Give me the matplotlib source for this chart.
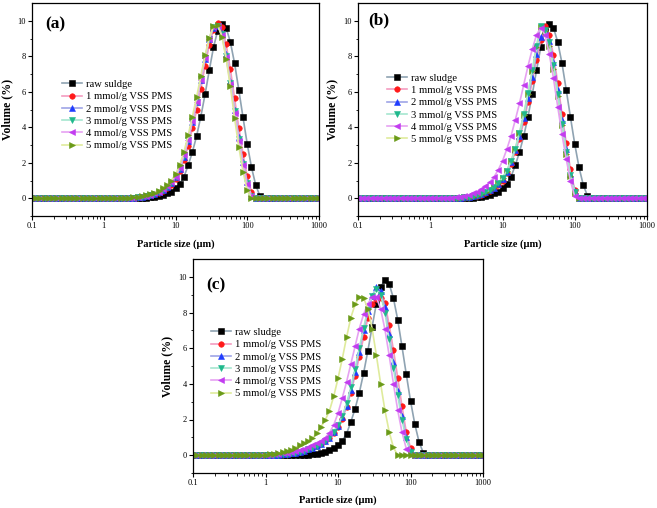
import matplotlib
matplotlib.use("Agg")
import matplotlib.pyplot as plt
from matplotlib.ticker import FixedLocator, NullFormatter

plt.rcParams['font.family'] = ['Liberation Serif', 'DejaVu Serif']

# particle size bins (um)
SIZE_UM = [0.1, 0.1145, 0.1311, 0.1501, 0.1719, 0.1968, 0.2254, 0.2581, 0.2955, 0.3384,
           0.3875, 0.4437, 0.508, 0.5817, 0.6661, 0.7627, 0.8733, 1.0, 1.145, 1.311,
           1.501, 1.719, 1.968, 2.254, 2.581, 2.955, 3.384, 3.875, 4.437, 5.08,
           5.817, 6.661, 7.627, 8.733, 10.0, 11.45, 13.11, 15.01, 17.19, 19.68,
           22.54, 25.81, 29.55, 33.84, 38.75, 44.37, 50.8, 58.17, 66.61, 76.27,
           87.33, 100.0, 114.5, 131.1, 150.1, 171.9, 196.8, 225.4, 258.1, 295.5,
           338.4, 387.5, 443.7, 508.0, 581.7, 666.1, 762.7, 873.3, 1000.0]

Z = 0
RAW = [Z]*25 + [0.01, 0.02, 0.03, 0.05, 0.08, 0.12, 0.18, 0.27, 0.38, 0.55,
                0.8, 1.2, 1.85, 2.6, 3.5, 4.6, 5.85, 7.2, 8.5, 9.45,
                9.8, 9.6, 8.8, 7.6, 6.1, 4.55, 3.05, 1.75, 0.75, 0.13] + [Z]*14

# panel (a)
A1 = [Z]*22 + [0.01, 0.02, 0.03, 0.05, 0.08, 0.11, 0.16, 0.22, 0.30, 0.40, 0.55, 0.75, 1.07, 1.51,
               2.15, 2.93, 3.94, 4.95, 6.15, 7.46, 8.64, 9.48, 9.90, 9.63, 8.67, 7.27, 5.63, 3.98,
               2.49, 1.23, 0.36] + [Z]*16
A2 = [Z]*22 + [0.01, 0.02, 0.04, 0.06, 0.09, 0.13, 0.18, 0.25, 0.34, 0.46, 0.62, 0.84, 1.17, 1.64,
               2.35, 3.25, 4.3, 5.4, 6.65, 7.85, 8.95, 9.6, 9.7, 9.3, 8.1, 6.6, 5.0, 3.45,
               2.05, 0.9, 0.15] + [Z]*16
A3 = [Z]*22 + [0.01, 0.02, 0.04, 0.06, 0.09, 0.13, 0.18, 0.25, 0.34, 0.46, 0.63, 0.86, 1.2, 1.68,
               2.4, 3.3, 4.35, 5.45, 6.7, 7.9, 9.0, 9.65, 9.72, 9.25, 8.0, 6.5, 4.9, 3.35,
               1.95, 0.85, 0.12] + [Z]*16
A4 = [Z]*22 + [0.01, 0.02, 0.04, 0.07, 0.10, 0.14, 0.20, 0.27, 0.37, 0.50, 0.67, 0.9, 1.22, 1.7,
               2.42, 3.3, 4.35, 5.45, 6.68, 7.9, 9.0, 9.65, 9.7, 9.2, 7.95, 6.45, 4.8, 3.25,
               1.9, 0.8, 0.1] + [Z]*16
A5 = [Z]*22 + [0.02, 0.03, 0.05, 0.08, 0.12, 0.17, 0.24, 0.32, 0.43, 0.57, 0.75, 1.0, 1.35, 1.88,
               2.62, 3.55, 4.6, 5.7, 6.9, 8.05, 9.05, 9.7, 9.75, 9.1, 7.85, 6.3, 4.5, 2.9,
               1.5, 0.45, 0] + [Z]*16

# panel (b)
B1 = [Z]*22 + [0.01, 0.02, 0.03, 0.05, 0.07, 0.1, 0.14, 0.2, 0.3, 0.4, 0.55, 0.75, 1.0, 1.4,
               1.95, 2.6, 3.35, 4.3, 5.4, 6.6, 7.8, 8.9, 9.7, 9.2, 8.05, 6.5, 4.75, 3.1,
               1.63, 0.45, 0] + [Z]*16
B2 = [Z]*22 + [0.01, 0.02, 0.04, 0.06, 0.08, 0.12, 0.17, 0.24, 0.33, 0.45, 0.6, 0.8, 1.1, 1.5,
               2.05, 2.7, 3.5, 4.5, 5.65, 6.85, 8.1, 9.1, 9.5, 8.85, 7.7, 6.1, 4.43, 2.75,
               1.35, 0.4, 0] + [Z]*16
B3 = [Z]*22 + [0.01, 0.02, 0.04, 0.06, 0.09, 0.13, 0.18, 0.25, 0.35, 0.47, 0.63, 0.85, 1.15, 1.55,
               2.1, 2.8, 3.7, 4.75, 5.95, 7.2, 8.6, 9.72, 9.5, 8.8, 7.5, 5.9, 4.2, 2.6,
               1.3, 0.35, 0] + [Z]*16
B4 = [Z]*20 + [0.01, 0.02, 0.04, 0.06, 0.09, 0.13, 0.19, 0.27, 0.37, 0.5, 0.68, 0.9, 1.2, 1.6,
               2.1, 2.75, 3.5, 4.4, 5.35, 6.4, 7.45, 8.4, 9.2, 9.6, 9.2, 8.15, 6.75, 5.15,
               3.6, 2.2, 0.97, 0.1, 0] + [Z]*16
B5 = [Z]*22 + [0.01, 0.02, 0.04, 0.06, 0.09, 0.13, 0.18, 0.25, 0.35, 0.47, 0.63, 0.85, 1.15, 1.55,
               2.1, 2.78, 3.66, 4.7, 5.9, 7.15, 8.5, 9.65, 9.4, 8.6, 7.3, 5.75, 4.1, 2.5,
               1.25, 0.3, 0] + [Z]*16

# panel (c)
C1 = [Z]*18 + [0.01, 0.02, 0.03, 0.05, 0.07, 0.1, 0.14, 0.19, 0.25, 0.32, 0.4, 0.5, 0.62, 0.78,
               0.98, 1.25, 1.6, 2.05, 2.7, 3.5, 4.45, 5.5, 6.6, 7.7, 8.5, 8.75, 8.8, 8.55,
               7.3, 5.9, 4.35, 2.75, 1.31, 0.41, 0] + [Z]*16
C2 = [Z]*18 + [0.01, 0.02, 0.03, 0.05, 0.07, 0.1, 0.14, 0.19, 0.25, 0.32, 0.4, 0.5, 0.62, 0.77,
               0.95, 1.3, 1.65, 2.15, 2.75, 3.64, 4.67, 5.8, 7.0, 8.1, 8.9, 9.45, 9.2, 8.3,
               6.8, 5.2, 3.6, 2.2, 1.0, 0.25, 0] + [Z]*16
C3 = [Z]*18 + [0.01, 0.02, 0.03, 0.05, 0.07, 0.1, 0.14, 0.19, 0.25, 0.32, 0.41, 0.51, 0.63, 0.79,
               0.98, 1.32, 1.7, 2.2, 2.9, 3.8, 4.85, 6.0, 7.15, 8.15, 8.9, 9.3, 9.0, 8.0,
               6.5, 4.9, 3.35, 2.0, 0.9, 0.2, 0] + [Z]*16
C4 = [Z]*16 + [0.01, 0.02, 0.03, 0.05, 0.07, 0.1, 0.13, 0.17, 0.22, 0.28, 0.36, 0.45, 0.57, 0.7,
               0.82, 0.98, 1.25, 1.7, 2.35, 3.2, 4.1, 5.1, 6.1, 7.1, 7.9, 8.5, 8.85, 8.85,
               8.2, 7.05, 5.6, 4.0, 2.52, 1.3, 0.37, 0] + [Z]*17
C5 = [Z]*16 + [0.01, 0.02, 0.04, 0.07, 0.11, 0.16, 0.23, 0.31, 0.42, 0.55, 0.68, 0.8, 0.95, 1.22,
               1.59, 1.96, 2.5, 3.3, 4.3, 5.4, 6.6, 7.7, 8.45, 8.88, 8.82, 8.2, 7.1, 5.6,
               4.0, 2.52, 1.31, 0.43, 0] + [Z]*20

LABELS_A = ['raw suldge', '1 mmol/g VSS PMS', '2 mmol/g VSS PMS', '3 mmol/g VSS PMS',
            '4 mmol/g VSS PMS', '5 mmol/g VSS PMS']
LABELS_BC = ['raw sludge'] + LABELS_A[1:]
XTICKS = [0.1, 1, 10, 100, 1000]
XTICK_LABELS = ['0.1', '1', '10', '100', '1000']
YTICKS = [0, 2, 4, 6, 8, 10]

MARKERS = ['s', 'o', '^', 'v', '<', '>']
MCOLORS = ['#000000', '#ff1a1a', '#1f3cff', '#1fb88c', '#c23cf0', '#6a9a18']
LCOLORS = ['#8fa3b2', '#f49cc0', '#9ea4e6', '#a6e6cf', '#e6a2f2', '#dfeb9c']

W, H = 657, 508
fig = plt.figure(figsize=(W / 100, H / 100), dpi=100)


def px_axes(l, t, r, b):
    return fig.add_axes([l / W, 1 - b / H, (r - l) / W, (b - t) / H])


def panel(ax, series, labels, tag, leg_xy, tag_xy, ylab_x, xlab_y, zorders=None):
    for k, ys in enumerate(series):
        z = 2 + k if zorders is None else zorders[k]
        ax.plot(SIZE_UM, ys, color=LCOLORS[k], lw=1.2, marker=MARKERS[k], ms=4.0,
                mfc=MCOLORS[k], mec=MCOLORS[k], mew=0.4, label=labels[k], zorder=z)
    ax.set_xscale('log')
    ax.set_xlim(0.1, 1000)
    ax.set_ylim(-1, 11)
    ax.xaxis.set_major_locator(FixedLocator(XTICKS))
    ax.set_xticklabels(XTICK_LABELS)
    minors = [m * d for d in [0.1, 1, 10, 100] for m in range(2, 10)]
    ax.xaxis.set_minor_locator(FixedLocator(minors))
    ax.xaxis.set_minor_formatter(NullFormatter())
    ax.set_yticks(YTICKS)
    ax.set_yticks([-1, 1, 3, 5, 7, 9], minor=True)
    ax.tick_params(which='major', direction='out', length=3, width=0.8, labelsize=6, pad=1.5)
    ax.tick_params(which='minor', direction='out', length=1.8, width=0.6)
    for s in ax.spines.values():
        s.set_linewidth(0.9)
        s.set_zorder(20)
    ax.set_xlabel('Particle size (μm)', fontsize=7.5, fontweight='bold')
    ax.set_ylabel('Volume (%)', fontsize=8.5, fontweight='bold')
    ax.yaxis.set_label_coords(ylab_x, 0.5)
    ax.xaxis.set_label_coords(0.5, xlab_y)
    ax.text(tag_xy[0], tag_xy[1], tag, transform=ax.transAxes, fontsize=12.5,
            fontweight='bold', va='center', ha='left')
    ax.legend(loc='upper left', bbox_to_anchor=leg_xy, frameon=False, fontsize=7.6,
              borderpad=0, borderaxespad=0, handlelength=1.9, handletextpad=0.4,
              labelspacing=0.27)


axA = px_axes(32, 3, 319, 216)
panel(axA, [RAW, A1, A2, A3, A4, A5], LABELS_A, '(a)', (0.104, 0.640), (0.045, 0.901),
      -0.066, -0.108)
axB = px_axes(358, 3, 647, 216)
panel(axB, [RAW, B1, B2, B3, B4, B5], LABELS_BC, '(b)', (0.099, 0.669), (0.035, 0.92),
      -0.069, -0.108, zorders=[2, 3, 4, 6, 7, 5])
axC = px_axes(193, 259, 483, 473)
panel(axC, [RAW, C1, C2, C3, C4, C5], LABELS_BC, '(c)', (0.061, 0.679), (0.044, 0.878),
      -0.069, -0.103)

fig.savefig('out.png', dpi=100)
